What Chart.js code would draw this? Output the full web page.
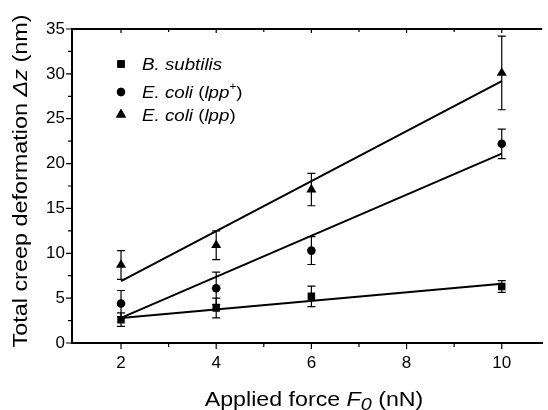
<!DOCTYPE html>
<html>
<head>
<meta charset="utf-8">
<script src="https://cdn.jsdelivr.net/npm/chart.js@4.4.1/dist/chart.umd.min.js"></script>
<style>
  html, body { margin: 0; padding: 0; background: #fff; }
  #wrap { width: 548px; height: 410px; }
</style>
</head>
<body>
<div id="wrap"><canvas id="chart"></canvas></div>
<script>
const forces = [2, 4, 6, 10];
const bSubtilis = [2.6, 3.9, 5.2, 6.3];
const bSubtilisErr = [0.75, 1.1, 1.15, 0.65];
const ecoliLppPlus = [4.4, 6.1, 10.3, 22.2];
const ecoliLppPlusErr = [1.45, 1.8, 1.55, 1.65];
const ecoliLpp = [8.7, 10.9, 17.1, 30.1];
const ecoliLppErr = [1.6, 1.6, 1.8, 4.1];

const fitX = [2, 10];
const bSubtilisFit = [2.8, 6.6];
const ecoliLppPlusFit = [2.8, 21.1];
const ecoliLppFit = [6.9, 29.2];

const xTicks = [2, 4, 6, 8, 10];
const xMinorTicks = [3, 5, 7, 9];
const yTicks = [0, 5, 10, 15, 20, 25, 30, 35];
const yMinorTicks = [2.5, 7.5, 12.5, 17.5, 22.5, 27.5, 32.5];

const FONT = "\"Liberation Sans\", Arial, sans-serif";

function points(xs, ys) {
  return xs.map((x, i) => ({ x, y: ys[i] }));
}

function markerSet(values, errors, style, radius) {
  return {
    type: "scatter",
    data: points(forces, values),
    errors,
    pointStyle: style,
    pointRadius: radius,
    pointBackgroundColor: "#000",
    pointBorderColor: "#000",
    pointBorderWidth: 0,
    order: 0
  };
}

function fitSet(values) {
  return {
    type: "line",
    data: points(fitX, values),
    borderColor: "#000",
    borderWidth: 2,
    pointRadius: 0,
    fill: false,
    order: 1
  };
}

// text pieces drawn one after another, stretched along the text direction
function drawRich(ctx, parts, x, y, align, stretch) {
  const widths = parts.map((p) => {
    ctx.font = `${p.italic ? "italic " : ""}${p.size}px ${FONT}`;
    return ctx.measureText(p.t).width * stretch;
  });
  const total = widths.reduce((a, b) => a + b, 0);
  let cx = align === "center" ? x - total / 2 : x;
  ctx.textAlign = "left";
  ctx.textBaseline = "alphabetic";
  parts.forEach((p, i) => {
    ctx.save();
    ctx.font = `${p.italic ? "italic " : ""}${p.size}px ${FONT}`;
    ctx.translate(cx, y + (p.dy || 0));
    ctx.scale(stretch, 1);
    ctx.fillText(p.t, 0, 0);
    ctx.restore();
    cx += widths[i];
  });
}

const errorBars = {
  id: "errorBars",
  afterDatasetsDraw(chart) {
    const ctx = chart.ctx;
    const yScale = chart.scales.y;
    ctx.save();
    ctx.strokeStyle = "#000";
    ctx.lineWidth = 1.2;
    chart.data.datasets.forEach((ds, i) => {
      if (!ds.errors) return;
      const meta = chart.getDatasetMeta(i);
      meta.data.forEach((el, j) => {
        const v = ds.data[j].y;
        const e = ds.errors[j];
        const top = yScale.getPixelForValue(v + e);
        const bot = yScale.getPixelForValue(v - e);
        ctx.beginPath();
        ctx.moveTo(el.x, top);
        ctx.lineTo(el.x, bot);
        ctx.moveTo(el.x - 4, top);
        ctx.lineTo(el.x + 4, top);
        ctx.moveTo(el.x - 4, bot);
        ctx.lineTo(el.x + 4, bot);
        ctx.stroke();
      });
    });
    ctx.restore();
  }
};

const frameAndText = {
  id: "frameAndText",
  afterDraw(chart) {
    const ctx = chart.ctx;
    const area = chart.chartArea;
    const xs = chart.scales.x;
    const ys = chart.scales.y;
    ctx.save();
    ctx.strokeStyle = "#000";
    ctx.fillStyle = "#000";

    // top frame line
    ctx.lineWidth = 2;
    ctx.beginPath();
    ctx.moveTo(area.left - 1, area.top);
    ctx.lineTo(area.right, area.top);
    ctx.stroke();

    ctx.lineWidth = 1.2;
    ctx.beginPath();
    xTicks.forEach((v) => {
      const px = xs.getPixelForValue(v);
      ctx.moveTo(px, area.bottom);
      ctx.lineTo(px, area.bottom + 6);
      ctx.moveTo(px, area.top);
      ctx.lineTo(px, area.top + 4);
    });
    xMinorTicks.forEach((v) => {
      const px = xs.getPixelForValue(v);
      ctx.moveTo(px, area.bottom);
      ctx.lineTo(px, area.bottom + 4);
      ctx.moveTo(px, area.top);
      ctx.lineTo(px, area.top + 3);
    });
    yTicks.forEach((v) => {
      const py = ys.getPixelForValue(v);
      ctx.moveTo(area.left, py);
      ctx.lineTo(area.left - 6, py);
    });
    yMinorTicks.forEach((v) => {
      const py = ys.getPixelForValue(v);
      ctx.moveTo(area.left, py);
      ctx.lineTo(area.left - 4, py);
    });
    ctx.stroke();

    // x title
    drawRich(ctx, [
      { t: "Applied force ", size: 20 },
      { t: "F", size: 20, italic: true },
      { t: "0", size: 17, italic: true, dy: 4 },
      { t: " (nN)", size: 20 }
    ], 314, 406, "center", 1.16);

    // y title
    ctx.save();
    ctx.translate(27, 181);
    ctx.rotate(-Math.PI / 2);
    drawRich(ctx, [
      { t: "Total creep deformation ", size: 20 },
      { t: "\u0394z", size: 20, italic: true },
      { t: " (nm)", size: 20 }
    ], 0, 0, "center", 1.17);
    ctx.restore();

    // legend
    const rows = [
      { style: "rect", r: 5.3, y: 64, base: 69.5, parts: [{ t: "B. subtilis", italic: true }] },
      { style: "circle", r: 4.2, y: 92, base: 97.5, parts: [
        { t: "E. coli ", italic: true }, { t: "(" }, { t: "lpp", italic: true },
        { t: "+", size: 10, dy: -8 }, { t: ")" }] },
      { style: "triangle", r: 5.8, y: 114.5, base: 121, parts: [
        { t: "E. coli ", italic: true }, { t: "(" }, { t: "lpp", italic: true }, { t: ")" }] }
    ];
    rows.forEach((row) => {
      Chart.helpers.drawPoint(ctx, { pointStyle: row.style, radius: row.r, borderWidth: 0 }, 121, row.y);
      ctx.fill();
      drawRich(ctx, row.parts.map((p) => Object.assign({ size: 16 }, p)), 142, row.base, "left", 1.17);
    });
    ctx.restore();
  }
};

new Chart(document.getElementById("chart"), {
  type: "scatter",
  data: {
    datasets: [
      fitSet(bSubtilisFit),
      fitSet(ecoliLppPlusFit),
      fitSet(ecoliLppFit),
      markerSet(bSubtilis, bSubtilisErr, "rect", 5.3),
      markerSet(ecoliLppPlus, ecoliLppPlusErr, "circle", 4.3),
      markerSet(ecoliLpp, ecoliLppErr, "triangle", 5.8)
    ]
  },
  plugins: [errorBars, frameAndText],
  options: {
    responsive: true,
    maintainAspectRatio: false,
    animation: false,
    layout: { padding: { top: 29, right: 0, bottom: 0, left: 0 } },
    plugins: {
      legend: { display: false },
      tooltip: { enabled: false }
    },
    scales: {
      x: {
        type: "linear",
        min: 0.97,
        max: 10.85,
        afterBuildTicks: (s) => { s.ticks = xTicks.map((v) => ({ value: v })); },
        afterFit: (s) => { s.height = 67; },
        grid: { display: false, drawTicks: false },
        border: { display: true, width: 2, color: "#000" },
        ticks: {
          color: "#000",
          padding: 10,
          maxRotation: 0,
          font: { family: FONT, size: 17 }
        }
      },
      y: {
        min: 0,
        max: 35,
        afterBuildTicks: (s) => { s.ticks = yTicks.map((v) => ({ value: v })); },
        afterFit: (s) => { s.width = 72; },
        grid: { display: false, drawTicks: false },
        border: { display: true, width: 2, color: "#000" },
        ticks: {
          color: "#000",
          padding: 7,
          font: { family: FONT, size: 17 }
        }
      }
    }
  }
});
</script>
</body>
</html>
